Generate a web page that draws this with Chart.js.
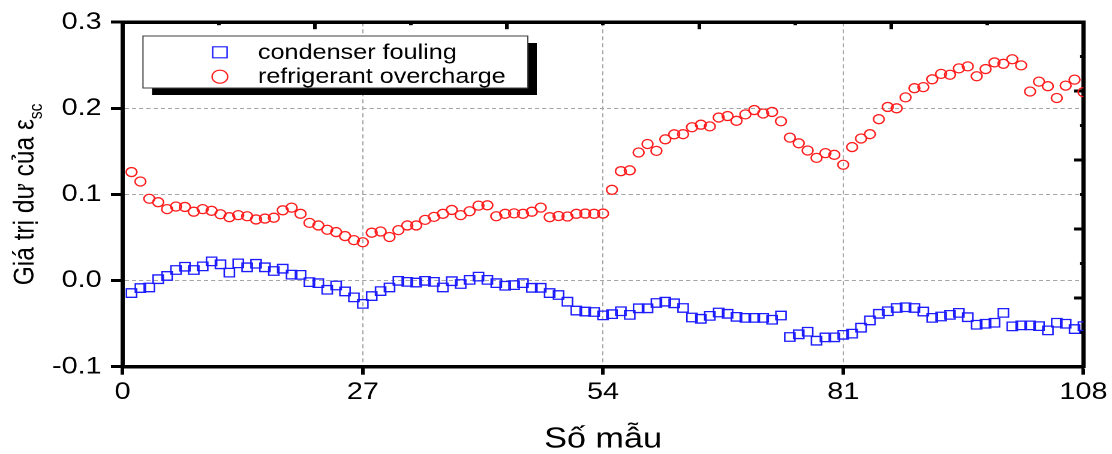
<!DOCTYPE html>
<html>
<head>
<meta charset="utf-8">
<script src="https://cdn.jsdelivr.net/npm/chart.js@4.4.1/dist/chart.umd.min.js"></script>
<style>
  html, body { margin: 0; padding: 0; background: #fff; overflow: hidden; }
  /* the source figure is stretched sideways: draw narrower, widen with CSS */
  #chart { display: block; width: 1112px !important; height: 454px !important; }
</style>
</head>
<body>
<canvas id="chart" width="927" height="454"></canvas>
<script>
// sample numbers (x)
const samples = [
  1, 2, 3, 4, 5, 6, 7, 8, 9, 10, 11, 12, 13, 14, 15, 16, 17, 18, 19, 20,
  21, 22, 23, 24, 25, 26, 27, 28, 29, 30, 31, 32, 33, 34, 35, 36, 37, 38, 39, 40,
  41, 42, 43, 44, 45, 46, 47, 48, 49, 50, 51, 52, 53, 54, 55, 56, 57, 58, 59, 60,
  61, 62, 63, 64, 65, 66, 67, 68, 69, 70, 71, 72, 73, 74, 75, 76, 77, 78, 79, 80,
  81, 82, 83, 84, 85, 86, 87, 88, 89, 90, 91, 92, 93, 94, 95, 96, 97, 98, 99, 100,
  101, 102, 103, 104, 105, 106, 107, 108
]

// residual of eps_sc, condenser fouling
const condenserFouling = [
  -0.0145, -0.0087, -0.008, 0.0016, 0.0054, 0.0123, 0.0161, 0.0123, 0.0165, 0.0223,
  0.0189, 0.0092, 0.020, 0.0154, 0.0195, 0.0154, 0.0111, 0.0138, 0.0069, 0.0066,
  -0.0018, -0.003, -0.0107, -0.0057, -0.0126, -0.0195, -0.0271, -0.018, -0.0122, -0.008,
  -0.0003, -0.0015, -0.0023, -0.0003, -0.0015, -0.008, -0.0007, -0.004, 0.0008, 0.0046,
  0.0008, -0.003, -0.006, -0.0053, -0.003, -0.0084, -0.0084, -0.0145, -0.0168, -0.0245,
  -0.0348, -0.036, -0.0365, -0.0404, -0.039, -0.0356, -0.0398, -0.0322, -0.0322, -0.026,
  -0.0245, -0.0264, -0.0318, -0.0429, -0.0444, -0.041, -0.0371, -0.0386, -0.0421, -0.0433,
  -0.0433, -0.0433, -0.0455, -0.0406, -0.0655, -0.0624, -0.0594, -0.0698, -0.066, -0.0659,
  -0.063, -0.0616, -0.0547, -0.0463, -0.0386, -0.0356, -0.0318, -0.031, -0.0318, -0.036,
  -0.0433, -0.0417, -0.0398, -0.0375, -0.0425, -0.0513, -0.0501, -0.049, -0.0375, -0.0532,
  -0.052, -0.052, -0.0529, -0.0578, -0.049, -0.0501, -0.0563, -0.0529
]

// residual of eps_sc, refrigerant overcharge
const refrigerantOvercharge = [
  0.126, 0.115, 0.095, 0.091, 0.083, 0.086, 0.0855, 0.080, 0.083, 0.081,
  0.077, 0.0736, 0.076, 0.0747, 0.071, 0.072, 0.073, 0.0816, 0.0847, 0.0775,
  0.067, 0.064, 0.059, 0.0563, 0.0517, 0.047, 0.0445, 0.0556, 0.057, 0.0506,
  0.0586, 0.064, 0.064, 0.0705, 0.074, 0.0775, 0.082, 0.076, 0.0805, 0.087,
  0.0874, 0.0747, 0.0775, 0.078, 0.0775, 0.080, 0.0847, 0.0736, 0.075, 0.0744,
  0.0775, 0.0778, 0.0775, 0.0778, 0.1054, 0.127, 0.128, 0.1487, 0.1586, 0.1506,
  0.164, 0.1698, 0.170, 0.178, 0.181, 0.179, 0.1893, 0.191, 0.1855, 0.193,
  0.198, 0.194, 0.1958, 0.185, 0.166, 0.1594, 0.151, 0.1425, 0.148, 0.146,
  0.1345, 0.155, 0.165, 0.170, 0.1874, 0.2016, 0.200, 0.2127, 0.2234, 0.2246,
  0.2337, 0.240, 0.239, 0.2464, 0.2487, 0.2372, 0.2456, 0.2533, 0.2517, 0.257,
  0.2499, 0.2195, 0.231, 0.2257, 0.212, 0.2264, 0.2333, 0.2188
]

const seriesLabels = ['condenser fouling', 'refrigerant overcharge']
const xTicks = [0, 27, 54, 81, 108]
const yTicks = [-0.1, 0, 0.1, 0.2, 0.3]
const xTitle = 'Số mẫu'
const yTitle = 'Giá trị dư của ε'
const yTitleSub = 'sc'

const FONT = "'Liberation Sans', Arial, sans-serif"
const GRID = '#a6a6a6'

// y title (with subscript) and the boxed legend with its shadow
const frameText = {
  id: 'frameText',
  afterDraw(chart) {
    const { ctx, chartArea } = chart

    ctx.save()
    ctx.fillStyle = '#000'
    ctx.translate(28, (chartArea.top + chartArea.bottom) / 2)
    ctx.rotate(-Math.PI / 2)
    ctx.textAlign = 'left'
    ctx.textBaseline = 'alphabetic'
    ctx.font = `24.5px ${FONT}`
    const mainW = ctx.measureText(yTitle).width
    ctx.font = `15.5px ${FONT}`
    const subW = ctx.measureText(yTitleSub).width
    const start = -(mainW + subW) / 2
    ctx.font = `24.5px ${FONT}`
    ctx.fillText(yTitle, start, 0)
    ctx.font = `15.5px ${FONT}`
    ctx.fillText(yTitleSub, start + mainW, 7)
    ctx.restore()

    const box = { x: 119.2, y: 36, w: 320.8, h: 52 }
    ctx.save()
    ctx.fillStyle = '#000'
    ctx.fillRect(box.x + 7.5, box.y + 7, box.w, box.h)
    ctx.fillStyle = '#fff'
    ctx.fillRect(box.x, box.y, box.w, box.h)
    ctx.strokeStyle = '#404040'
    ctx.lineWidth = 1
    ctx.strokeRect(box.x, box.y, box.w, box.h)

    const rows = [52.3, 76.7]
    chart.data.datasets.forEach((ds, i) => {
      const y = rows[i]
      ctx.strokeStyle = ds.pointBorderColor
      ctx.lineWidth = 1.2
      ctx.beginPath()
      if (ds.pointStyle === 'rect') {
        ctx.rect(183.3 - 6, y - 5.5, 12, 11)
      } else {
        ctx.ellipse(183.3, y, 6.5, 6.5, 0, 0, Math.PI * 2)
      }
      ctx.stroke()
      ctx.fillStyle = '#000'
      ctx.font = `21px ${FONT}`
      ctx.textAlign = 'left'
      ctx.textBaseline = 'alphabetic'
      ctx.fillText(ds.label, 215, y + 6.5)
    })
    ctx.restore()
  }
}

const hideEnds = (lo, hi) => (c) =>
  (c.tick && (Math.abs(c.tick.value - lo) < 1e-9 || Math.abs(c.tick.value - hi) < 1e-9)) ? 'rgba(0,0,0,0)' : GRID

// inward tick marks of the top and right frame edges
const frameAxis = (position, min, max, step, length) => ({
  type: 'linear',
  position,
  min,
  max,
  ticks: { display: false, stepSize: step },
  grid: { drawOnChartArea: false, tickLength: -length, tickWidth: 3, tickColor: '#000' },
  border: { display: true, width: 3.5, color: '#000' },
  afterFit: (s) => { if (position === 'top') s.height = 0; else s.width = 0 }
})

new Chart(document.getElementById('chart'), {
  type: 'scatter',
  data: {
    datasets: [
      {
        label: seriesLabels[0],
        data: samples.map((x, i) => ({ x, y: condenserFouling[i] })),
        pointStyle: 'rect',
        pointRadius: 6,
        pointBorderWidth: 1.3,
        pointBorderColor: '#1c1cff',
        pointBackgroundColor: 'rgba(0,0,0,0)',
        showLine: false,
        clip: 0
      },
      {
        label: seriesLabels[1],
        data: samples.map((x, i) => ({ x, y: refrigerantOvercharge[i] })),
        pointStyle: 'circle',
        pointRadius: 4.5,
        pointBorderWidth: 1.3,
        pointBorderColor: '#ff1c1c',
        pointBackgroundColor: 'rgba(0,0,0,0)',
        showLine: false,
        clip: 0
      }
    ]
  },
  options: {
    responsive: false,
    devicePixelRatio: 2,
    animation: false,
    events: [],
    layout: { padding: { top: 18.7, right: 23.8, left: 0, bottom: 0 } },
    plugins: {
      legend: { display: false },
      tooltip: { enabled: false }
    },
    scales: {
      x: {
        type: 'linear',
        position: 'bottom',
        min: 0,
        max: 108,
        afterBuildTicks: (s) => { s.ticks = xTicks.map(v => ({ value: v })) },
        afterFit: (s) => { s.height = 87.3 },
        ticks: {
          color: '#000',
          padding: 3.4,
          font: { family: FONT, size: 24, lineHeight: 1.2 },
          callback: (v) => String(v)
        },
        grid: { color: hideEnds(0, 108), lineWidth: 1, tickLength: 8, tickWidth: 3, tickColor: '#000' },
        border: { display: true, width: 3.5, color: '#000', dash: [4, 3] },
        title: {
          display: true,
          text: xTitle,
          color: '#000',
          font: { family: FONT, size: 28.5, lineHeight: 1 },
          padding: { top: 0, bottom: 0 }
        }
      },
      y: {
        type: 'linear',
        position: 'left',
        min: -0.1,
        max: 0.3,
        afterBuildTicks: (s) => { s.ticks = yTicks.map(v => ({ value: v })) },
        afterFit: (s) => { s.width = 102.2 },
        ticks: {
          color: '#000',
          padding: 7.8,
          font: { family: FONT, size: 24 },
          callback: (v) => v.toFixed(1)
        },
        grid: { color: hideEnds(-0.1, 0.3), lineWidth: 1, tickLength: 9.7, tickWidth: 3, tickColor: '#000' },
        border: { display: true, width: 3.5, color: '#000', dash: [3.5, 2.5] }
      },
      xTopMinor: frameAxis('top', 0, 108, 10.8, 3),
      xTop: frameAxis('top', 0, 108, 21.6, 7),
      yRightMinor: frameAxis('right', -0.1, 0.3, 0.04, 2.8),
      yRight: frameAxis('right', -0.1, 0.3, 0.08, 7.8)
    }
  },
  plugins: [frameText]
})
</script>
</body>
</html>
